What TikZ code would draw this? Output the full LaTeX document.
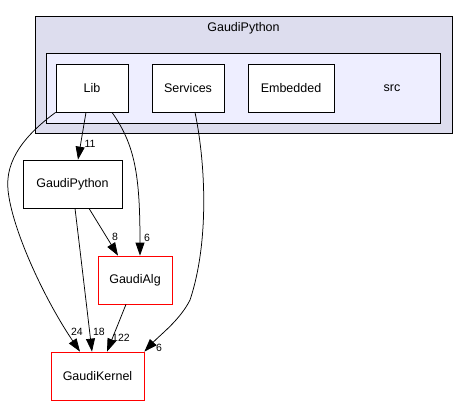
\documentclass[tikz,border=0pt]{standalone}
\usepackage{fontspec}
\setmainfont{Liberation Sans}
\usepackage{tikz}
\usetikzlibrary{arrows.meta}
\definecolor{clusterout}{HTML}{DDDDEE}
\definecolor{clusterin}{HTML}{EEEEFF}

\begin{document}
\begin{tikzpicture}[x=1pt, y=-1pt, line width=.75pt,
	dirbox/.style={draw, fill=white, inner sep=0pt, minimum height=48pt, font=\fontsize{12.5}{14}\selectfont},
	extbox/.style={dirbox, draw=red},
	dep/.style={-{Triangle[length=13pt,width=9pt]}},
	cnt/.style={inner sep=0pt, font=\fontsize{10.5}{12}\selectfont}]
	\useasboundingbox (0,0) rectangle (467,405);
	\draw[fill=clusterout] (35,16) rectangle (452,133);
	\node[inner sep=0pt, font=\fontsize{12.5}{14}\selectfont] (outer) at (243.5,28) {GaudiPython};
	\draw[fill=clusterin] (46,53) rectangle (440,123);
	\node[inner sep=0pt, font=\fontsize{12.5}{14}\selectfont] (src) at (392,88) {src};
	\node[dirbox, minimum width=72pt] (lib) at (92,88) {Lib};
	\node[dirbox, minimum width=72pt] (services) at (188,88) {Services};
	\node[dirbox, minimum width=86pt] (embedded) at (291,88) {Embedded};
	\node[dirbox, minimum width=99pt] (gaudipython) at (72.5,184) {GaudiPython};
	\node[extbox, minimum width=74pt] (gaudialg) at (135,280) {GaudiAlg};
	\node[extbox, minimum width=93pt] (gaudikernel) at (97.5,376) {GaudiKernel};
	% dependencies
	\draw[dep] (lib.south west) .. controls (25,135) and (5,160) .. (8,190)
	  .. controls (12,230) and (45,300) .. ([xshift=-17.5pt]gaudikernel.north);
	\draw[dep] ([xshift=-6pt]lib.south) .. controls (83,130) .. ([xshift=5.5pt]gaudipython.north);
	\draw[dep] ([xshift=20pt]lib.south) .. controls (135,145) and (140,175) .. ([xshift=5pt]gaudialg.north);
	\draw[dep] ([xshift=7pt]services.south) .. controls (205,160) and (210,240) .. (190,300)
	  .. controls (180,320) and (160,335) .. (gaudikernel.north east);
	\draw[dep] ([xshift=2.5pt]gaudipython.south) .. controls (80,250) .. ([xshift=-5.5pt]gaudikernel.north);
	\draw[dep] ([xshift=16.5pt]gaudipython.south) -- ([xshift=-17pt]gaudialg.north);
	\draw[dep] ([xshift=-9pt]gaudialg.south) -- ([xshift=9.5pt]gaudikernel.north);
	\node[cnt] (n11) at (90,144) {11};
	\node[cnt] (n8) at (115,237) {8};
	\node[cnt] (n6a) at (147,238) {6};
	\node[cnt] (n24) at (77,332) {24};
	\node[cnt] (n18) at (99,332) {18};
	\node[cnt] (n122) at (121,338) {122};
	\node[cnt] (n6b) at (159,348) {6};
\end{tikzpicture}
\end{document}
